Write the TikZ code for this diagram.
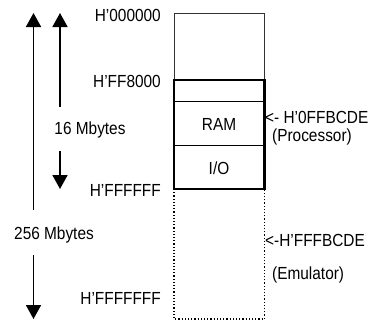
\documentclass[tikz,border=0pt]{standalone}
\usepackage{fontspec}
\setmainfont[FakeStretch=0.88]{Liberation Sans}
\usetikzlibrary{arrows.meta}
\begin{document}
\begin{tikzpicture}[x=1pt,y=-1pt,
  lbl/.style={inner sep=0pt,font=\fontsize{17.5}{19}\selectfont},
  arr/.style={line width=1.7pt,-{Triangle[width=15pt,length=14pt]}},
  thin box/.style={draw=black!80,line width=0.9pt},
  thick box/.style={draw=black,line width=2.4pt},
  dot box/.style={draw=black,line width=1.2pt,dotted}]
\useasboundingbox (0,0) rectangle (374,322);
% memory boxes
\draw[thin box] (174,80) -- (174,13) -- (264.5,13) -- (264.5,80);
\draw[dot box] (174,189) -- (174,319) -- (264.5,319) -- (264.5,189);
\draw[thick box] (174,80) rectangle (264.5,189);
\draw[line width=0.8pt] (174,101) -- (264.5,101);
\draw[line width=0.8pt] (174,145) -- (264.5,145);
\node[lbl] (ram) at (219,124) {RAM};
\node[lbl] (io) at (219,168) {I/O};
% address labels
\node[lbl,anchor=east] (a0) at (161,15) {H’000000};
\node[lbl,anchor=east] (a1) at (161,81) {H’FF8000};
\node[lbl,anchor=east] (a2) at (161,190) {H’FFFFFF};
\node[lbl,anchor=east] (a3) at (161,298) {H’FFFFFFF};
% right labels
\node[lbl,anchor=west] (p1) at (265,117) {<- H’0FFBCDE};
\node[lbl,anchor=west] (p2) at (272,137) {(Processor)};
\node[lbl,anchor=west] (e1) at (265,240) {<-H’FFFBCDE};
\node[lbl,anchor=west] (e2) at (272,275) {(Emulator)};
% size labels
\node[lbl] (m16) at (90,130) {16 Mbytes};
\node[lbl] (m256) at (54,235) {256 Mbytes};
% arrows
\coordinate (t1) at (60,13);
\coordinate (b1) at (60,189);
\coordinate (t2) at (33.5,13);
\coordinate (b2) at (33.5,319);
\draw[arr] (60,107) -- (t1);
\draw[arr] (60,151) -- (b1);
\draw[arr] (33.5,210) -- (t2);
\draw[arr] (33.5,255) -- (b2);
\end{tikzpicture}
\end{document}
